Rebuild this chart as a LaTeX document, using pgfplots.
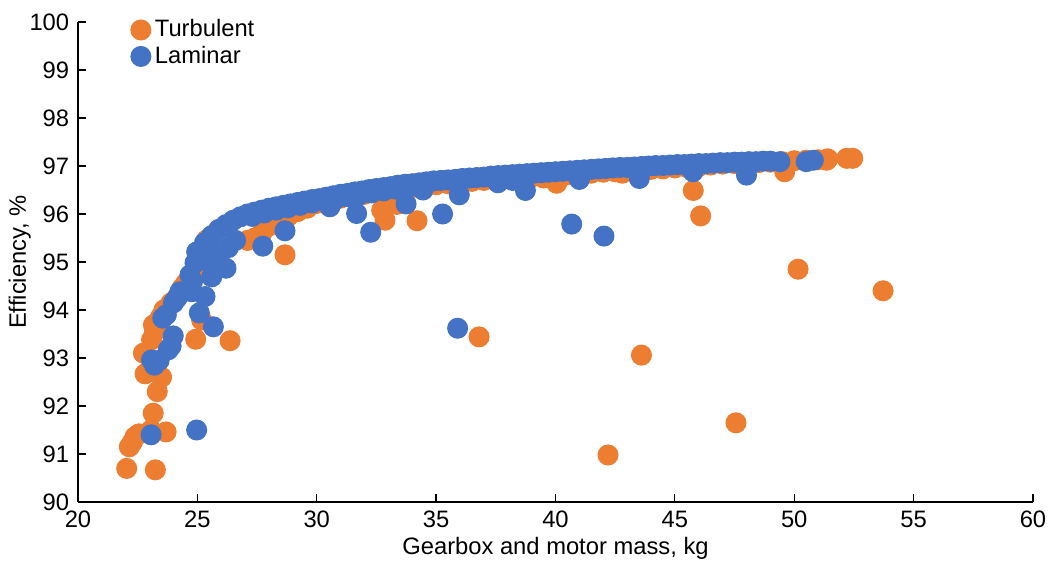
\documentclass[border=0pt]{standalone}
\usepackage{pgfplots}
\pgfplotsset{compat=1.18}
\usepackage{pgfplotstable}
\usepackage{fontspec}
\setmainfont{Liberation Sans}
\definecolor{turb}{HTML}{ED7D31}
\definecolor{lam}{HTML}{4472C4}

\pgfplotstableread{
x y
22.04 90.70
23.24 90.67
22.15 91.15
22.28 91.25
22.39 91.36
22.55 91.42
23.06 91.50
23.69 91.46
23.15 91.85
23.32 92.30
23.50 92.60
22.81 92.67
22.95 92.72
22.74 93.10
23.08 93.38
23.20 93.55
23.16 93.69
23.35 93.60
23.45 93.85
23.60 94.00
23.75 94.05
23.90 94.15
24.05 94.20
24.20 94.30
24.35 94.45
24.50 94.55
24.65 94.65
24.80 94.75
24.95 94.90
25.10 95.00
25.25 95.15
25.39 95.46
25.88 95.67
25.18 93.79
24.93 93.39
26.37 93.36
28.67 95.15
27.10 95.45
27.40 95.50
27.70 95.60
28.00 95.75
28.40 95.85
28.80 95.95
29.20 96.05
29.60 96.12
30.00 96.22
30.50 96.28
31.00 96.33
31.50 96.37
32.00 96.41
32.50 96.45
33.00 96.48
33.50 96.51
34.00 96.55
34.50 96.58
35.00 96.61
35.50 96.63
36.00 96.66
36.50 96.68
37.00 96.70
37.50 96.72
38.00 96.74
38.50 96.76
39.00 96.77
39.50 96.75
40.00 96.81
40.05 96.64
40.50 96.82
41.00 96.84
41.50 96.85
42.00 96.87
42.50 96.88
42.80 96.85
43.00 96.90
43.50 96.91
44.00 96.93
44.50 96.94
45.00 96.96
45.50 96.97
46.00 96.99
46.50 97.02
47.00 97.04
47.50 97.05
48.00 97.06
48.50 97.07
49.00 97.08
49.50 97.09
50.00 97.11
50.50 97.12
51.00 97.13
51.36 97.12
51.40 97.15
52.20 97.16
52.45 97.16
32.72 96.08
32.86 95.87
33.35 96.20
34.20 95.86
36.80 93.44
42.20 90.98
43.60 93.06
45.77 96.49
46.08 95.96
47.56 91.65
49.60 96.88
50.16 94.85
53.72 94.40
}\turbtable

\pgfplotstableread{
x y
24.27 94.38
24.69 94.73
24.97 95.21
25.30 95.40
25.60 95.55
25.90 95.68
26.20 95.78
26.50 95.87
26.80 95.94
27.10 96.00
27.40 96.04
27.70 96.08
28.00 96.12
28.30 96.15
28.60 96.18
28.90 96.21
29.20 96.24
29.50 96.27
29.80 96.30
30.10 96.32
30.40 96.35
30.70 96.38
31.00 96.41
31.30 96.43
31.60 96.46
31.90 96.48
32.20 96.51
32.50 96.53
32.80 96.55
33.10 96.57
33.40 96.60
33.70 96.62
34.00 96.63
34.30 96.65
34.60 96.67
34.90 96.69
35.20 96.70
35.50 96.71
35.80 96.72
36.10 96.74
36.40 96.75
36.70 96.76
37.00 96.77
37.30 96.79
37.60 96.80
37.90 96.81
38.20 96.82
38.50 96.83
38.80 96.84
39.10 96.85
39.40 96.86
39.70 96.87
40.00 96.88
40.30 96.89
40.60 96.90
40.90 96.91
41.20 96.92
41.50 96.93
41.80 96.94
42.10 96.95
42.40 96.96
42.70 96.97
43.00 96.97
43.30 96.98
43.60 96.99
43.90 97.00
44.20 97.01
44.50 97.01
44.80 97.02
45.10 97.03
45.40 97.03
45.70 97.04
46.00 97.05
46.30 97.05
46.60 97.06
46.90 97.07
47.20 97.07
47.50 97.08
47.80 97.08
48.10 97.09
48.40 97.09
48.70 97.10
49.00 97.10
49.40 97.09
50.50 97.09
50.80 97.12
27.30 95.95
27.80 96.02
28.30 96.08
28.80 96.13
29.30 96.18
29.80 96.23
30.30 96.27
30.80 96.31
31.30 96.36
31.80 96.40
32.30 96.44
32.80 96.48
33.30 96.52
33.80 96.55
23.06 91.40
24.97 91.50
23.20 92.85
23.08 92.96
23.40 92.95
23.78 93.17
23.90 93.25
23.99 93.46
23.55 93.83
23.70 93.90
24.00 94.15
24.15 94.25
24.76 94.38
25.08 93.94
25.32 94.28
25.67 93.65
26.20 94.87
25.60 94.69
24.90 94.98
24.80 94.60
25.20 95.05
25.50 95.00
25.95 95.19
26.30 95.30
26.60 95.45
27.74 95.33
28.67 95.65
30.55 96.15
31.67 96.01
32.26 95.62
33.74 96.21
35.27 96.00
35.97 96.40
35.90 93.62
37.59 96.65
38.74 96.49
40.68 95.79
42.03 95.54
34.45 96.50
38.20 96.70
41.00 96.72
43.51 96.74
45.76 96.88
48.00 96.81
}\lamtable

\begin{document}
\begin{tikzpicture}
\begin{axis}[
  scale only axis,
  width=382pt, height=192pt,
  xmin=20, xmax=60, ymin=90, ymax=100,
  axis lines*=left,
  xtick={20,25,...,60},
  ytick={90,91,...,100},
  tick align=inside,
  major tick length=3.4pt,
  tick style={black, line width=0.5pt},
  axis line style={black, line width=0.6pt},
  /pgf/number format/assume math mode=true,
  ticklabel style={font=\fontsize{9.5}{11}\selectfont},
  label style={font=\fontsize{9.5}{11}\selectfont},
  xlabel={Gearbox and motor mass, kg},
  ylabel={Efficiency, \%},
  xlabel style={at={(axis description cs:0.5,-0.096)}, anchor=center},
  ylabel style={at={(axis description cs:-0.061,0.5)}, anchor=center},
  legend style={draw=none, fill=none, at={(axis description cs:0.047,1.025)}, anchor=north west,
    font=\fontsize{9.5}{11}\selectfont, row sep=-1pt, nodes={inner sep=1.6pt}},
  legend cell align=left,
  legend image code/.code={\draw[#1] plot coordinates {(4pt,0pt)};},
]
\addplot[only marks, mark=*, mark size=4pt, mark options={draw=turb, fill=turb}] table[x=x,y=y] {\turbtable};
\addlegendentry{Turbulent}
\addplot[only marks, mark=*, mark size=4pt, mark options={draw=lam, fill=lam}] table[x=x,y=y] {\lamtable};
\addlegendentry{Laminar}
\end{axis}
\pgfresetboundingbox
\path ([shift={(-31.2pt,-24pt)}]current axis.south west) rectangle ([shift={(6.8pt,8.8pt)}]current axis.north east);
\end{tikzpicture}
\end{document}
